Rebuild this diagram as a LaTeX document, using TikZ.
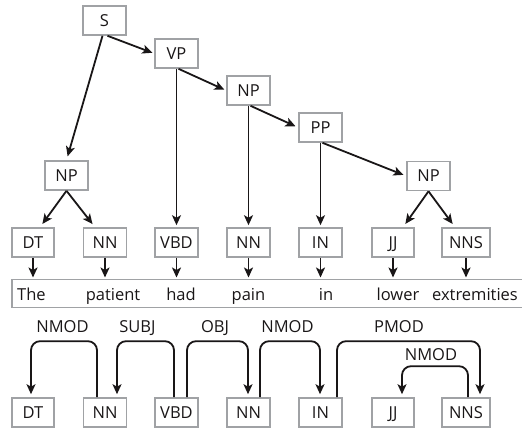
\documentclass[tikz,border=0pt]{standalone}
\usepackage{fontspec}
\setmainfont{Open Sans}
\usepackage{tikz}
\usetikzlibrary{arrows.meta}
\definecolor{boxgray}{RGB}{160,162,165}
\definecolor{ink}{RGB}{25,22,23}

\begin{document}
\begin{tikzpicture}[x=1pt,y=-1pt,font=\fontsize{16.5}{20}\selectfont,text=ink]
  \tikzset{tagbox/.style={draw=boxgray,line width=1.6pt,minimum height=29pt,inner sep=0pt,text height=11.8pt,text depth=0pt},
    edge/.style={draw=ink,line width=1.8pt,-{Stealth[length=10pt,width=9pt,inset=2.5pt]},shorten >=2pt},
    deparc/.style={edge,rounded corners=9pt,shorten >=3pt}}
  \useasboundingbox (0,0) rectangle (522,429);
  % ---------------- phrase structure
  \node[tagbox,minimum width=43pt] (nS) at (104.5,20.5) {S};
  \node[tagbox,minimum width=43pt] (nVP) at (176.5,53.5) {VP};
  \node[tagbox,minimum width=43pt] (nNPm) at (248.5,90.5) {NP};
  \node[tagbox,minimum width=43pt] (nPP) at (320.5,127.5) {PP};
  \node[tagbox,minimum width=43pt] (nNPl) at (66.5,175.5) {NP};
  \node[tagbox,minimum width=43pt] (nNPr) at (428.5,176) {NP};
  % ---------------- tags over the words
  \foreach \name/\x/\w/\lab in {tDT/33/42/DT,tNN/105/43/NN,tVBD/176.5/43/VBD,tNN2/248.5/43/NN,tIN/320.5/43/IN,tJJ/393/42/JJ,tNNS/466/48/NNS}
    \node[tagbox,minimum width=\w pt] (\name) at (\x,242.5) {\lab};
  \draw[edge] ([xshift=3pt]nS.south) -- (nVP.west);
  \draw[edge,shorten >=4pt] ([xshift=-2pt]nS.south) -- (nNPl.north);
  \draw[edge] ([xshift=2pt]nVP.south) -- (nNPm.west);
  \draw[edge] (nVP.south) -- (tVBD.north);
  \draw[edge,shorten >=3pt] ([xshift=2pt]nNPm.south) -- (nPP.west);
  \draw[edge] (nNPm.south) -- (tNN2.north);
  \draw[edge,shorten >=3pt] ([xshift=2pt]nPP.south) -- (nNPr.west);
  \draw[edge] (nPP.south) -- (tIN.north);
  \draw[edge,shorten >=4pt] (nNPl.south) -- ([xshift=7pt]tDT.north);
  \draw[edge,shorten >=4pt] (nNPl.south) -- ([xshift=-10pt]tNN.north);
  \draw[edge,shorten >=4pt] (nNPr.south) -- ([xshift=10pt]tJJ.north);
  \draw[edge,shorten >=4pt] (nNPr.south) -- ([xshift=-11pt]tNNS.north);
  % ---------------- sentence
  \coordinate (wtop) at (0,279.5);
  \draw[boxgray,line width=1.6pt] (523,279.5) -| (12,307.5) -- (523,307.5);
  \foreach \name/\x/\w in {wThe/31.5/The,wPatient/113/patient,wHad/181/had,wPain/248.5/pain,wIn/326/in,wLower/398/lower,wExtr/475/extremities}
    \node[anchor=base,inner sep=0pt] (\name) at (\x,300) {\w};
  \foreach \t in {tDT,tNN,tVBD,tNN2,tIN,tJJ,tNNS}
    \draw[edge] (\t.south) -- (\t.south |- wtop);
  % ---------------- dependencies
  \foreach \name/\x/\w/\lab in {bDT/33/42/DT,bNN/105/43/NN,bVBD/176.5/43/VBD,bNN2/248.5/43/NN,bIN/320.5/43/IN,bJJ/393/42/JJ,bNNS/466/48/NNS}
    \node[tagbox,minimum width=\w pt] (\name) at (\x,412.5) {\lab};
  \draw[deparc] ([xshift=-8pt]bNN.north) -- ++(0,-56) -| ([xshift=-2pt]bDT.north);
  \draw[deparc] ([xshift=-2.5pt]bVBD.north) -- ++(0,-56) -| ([xshift=12pt]bNN.north);
  \draw[deparc] ([xshift=10.5pt]bVBD.north) -- ++(0,-56) -| ([xshift=-0.5pt]bNN2.north);
  \draw[deparc] ([xshift=11.5pt]bNN2.north) -- ++(0,-56) -| ([xshift=-0.5pt]bIN.north);
  \draw[deparc] ([xshift=16.5pt]bIN.north) -- ++(0,-56) -| ([xshift=14pt]bNNS.north);
  \draw[deparc] ([xshift=2pt]bNNS.north) -- ++(0,-31) -| ([xshift=9pt]bJJ.north);
  \node[anchor=base,inner sep=0pt] (lNmodA) at (62.5,332) {NMOD};
  \node[anchor=base,inner sep=0pt] (lSubj) at (137.5,332) {SUBJ};
  \node[anchor=base,inner sep=0pt] (lObj) at (215,332) {OBJ};
  \node[anchor=base,inner sep=0pt] (lNmodB) at (287.5,332) {NMOD};
  \node[anchor=base,inner sep=0pt] (lPmod) at (399,332) {PMOD};
  \node[anchor=base,inner sep=0pt] (lNmodC) at (431,360) {NMOD};
\end{tikzpicture}
\end{document}
